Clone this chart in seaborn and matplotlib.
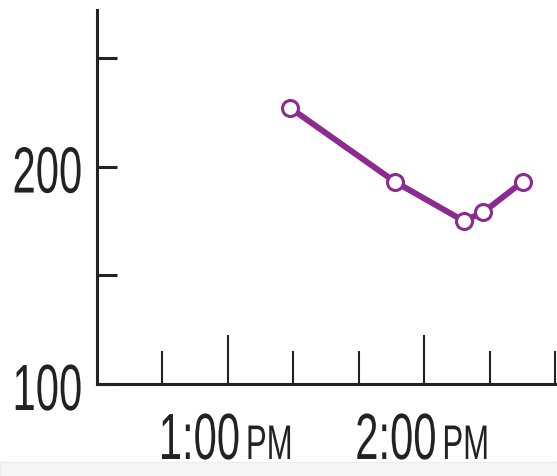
import matplotlib
matplotlib.use("Agg")
import matplotlib.pyplot as plt
import seaborn as sns
import numpy as np
import pandas as pd
from matplotlib.patches import Rectangle
from matplotlib.patheffects import AbstractPathEffect
from matplotlib.transforms import Affine2D, ScaledTranslation

# readings (clock time, value)
times = ["1:19", "1:51", "2:12", "2:18", "2:30"]
values = [227, 193, 175, 179, 193]

y_ticks = [100, 150, 200, 250]
y_labels = ["100", "200"]
hour_ticks = ["1:00", "2:00"]
minor_ticks = ["12:40", "1:20", "1:40", "2:20", "2:40"]


def to_min(t):
    # minutes after noon
    h, m = t.split(":")
    h = int(h) % 12
    return h * 60 + int(m)


class Squeeze(AbstractPathEffect):
    """squeeze glyphs sideways to mimic a condensed face"""
    def __init__(self, sx=0.64, anchor="right"):
        super().__init__()
        self.sx = sx
        self.anchor = anchor

    def draw_path(self, renderer, gc, tpath, affine, rgbFace=None):
        xs = affine.transform(tpath.vertices)[:, 0]
        x0 = {"right": xs.max(), "left": xs.min()}.get(self.anchor, (xs.min() + xs.max()) / 2)
        tr = affine + Affine2D().translate(-x0, 0).scale(self.sx, 1).translate(x0, 0)
        renderer.draw_path(gc, tpath, tr, rgbFace)


df = pd.DataFrame({"t": [to_min(t) for t in times], "v": values})

sns.set_style("white")
plt.rcParams["font.family"] = ["Liberation Sans", "DejaVu Sans"]

purple = "#8b2b91"
ink = "#222222"

fig = plt.figure(figsize=(5.57, 4.77), dpi=100)
ax = fig.add_axes([0.1741, 0.1929, 0.8259, 0.784])

sns.lineplot(data=df, x="t", y="v", ax=ax, color=purple, linewidth=4.3,
             marker="o", markersize=11.5, markerfacecolor="white",
             markeredgecolor=purple, markeredgewidth=2.2, zorder=3)

ax.set_xlim(20, 160.5)
ax.set_ylim(100, 272)

for s in ["top", "right"]:
    ax.spines[s].set_visible(False)
for s in ["left", "bottom"]:
    ax.spines[s].set_linewidth(2.2)
    ax.spines[s].set_color(ink)

ax.set_yticks(y_ticks)
ax.set_yticklabels([])
ax.tick_params(axis="y", direction="in", length=14.4, width=2.2, color=ink, left=True)

ax.set_xticks([to_min(t) for t in hour_ticks])
ax.set_xticklabels([])
ax.set_xticks([to_min(t) for t in minor_ticks], minor=True)
ax.tick_params(axis="x", which="major", direction="in", length=35, width=1.5,
               color=ink, bottom=True)
ax.tick_params(axis="x", which="minor", direction="in", length=24, width=1.5,
               color=ink, bottom=True)

pts = fig.dpi_scale_trans


def shift(dx, dy):
    # offset in pixels
    return ScaledTranslation(dx / 100, dy / 100, pts)


# y labels
for lab in y_labels:
    ax.text(0, float(lab), lab, transform=ax.get_yaxis_transform() + shift(-14, -26),
            ha="right", va="baseline", fontsize=47, color=ink,
            path_effects=[Squeeze(0.64, "right")])

# x labels: big clock digits + smaller PM
for t in hour_ticks:
    x = to_min(t)
    ax.text(x, 0, t, transform=ax.get_xaxis_transform() + shift(13, -75),
            ha="right", va="baseline", fontsize=47, color=ink,
            path_effects=[Squeeze(0.64, "right")])
    ax.text(x, 0, "PM", transform=ax.get_xaxis_transform() + shift(18, -75),
            ha="left", va="baseline", fontsize=35, color=ink,
            path_effects=[Squeeze(0.64, "left")])

ax.set_xlabel("")
ax.set_ylabel("")

# light strip along the bottom edge
fig.patches.append(Rectangle((0, 0), 1, 14 / 477, transform=fig.transFigure,
                             facecolor="#f6f6f6", edgecolor="#ececec",
                             linewidth=0.8, zorder=-1))

fig.savefig("out.png", dpi=100)
